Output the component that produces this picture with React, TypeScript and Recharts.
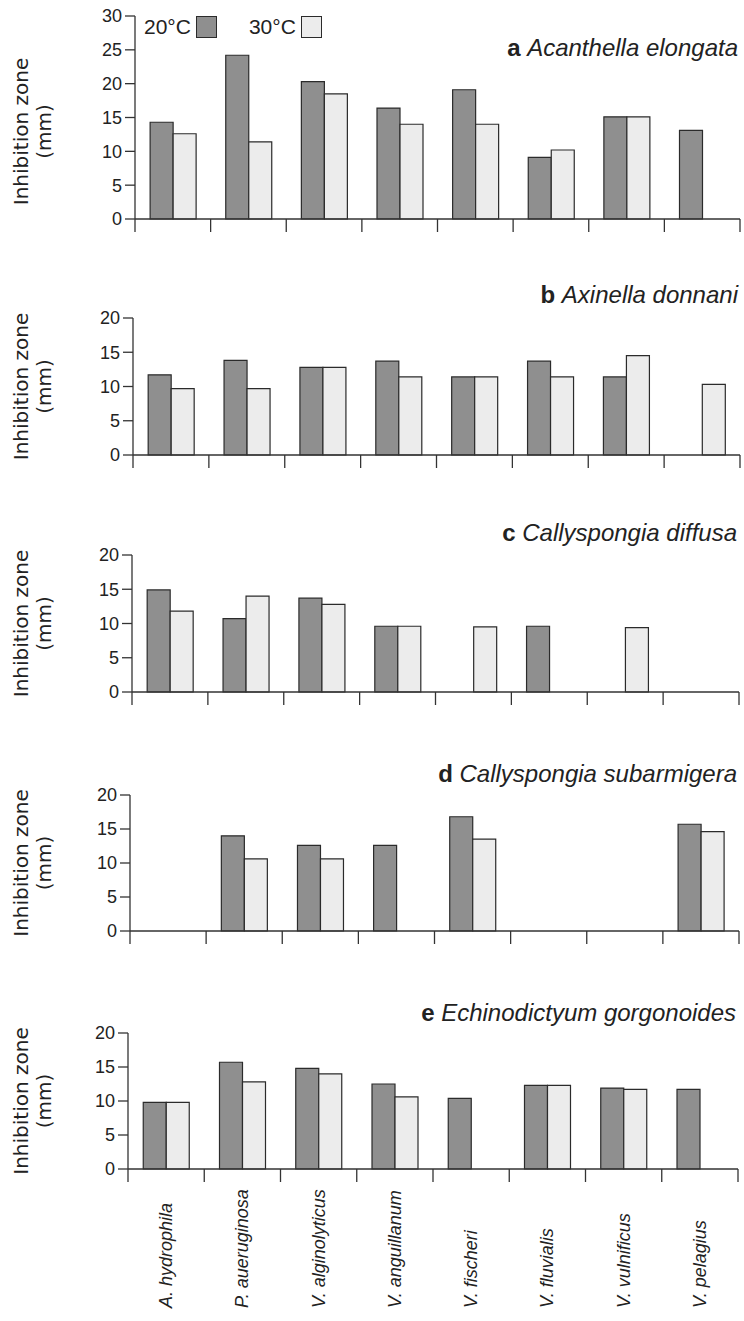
import React from 'react';
import { BarChart, Bar, XAxis, YAxis, Legend } from 'recharts';

const categories = [
  'A. hydrophila',
  'P. aueruginosa',
  'V. alginolyticus',
  'V. anguillanum',
  'V. fischeri',
  'V. fluvialis',
  'V. vulnificus',
  'V. pelagius',
];

const seriesNames = ['20°C', '30°C'];

const a20 = [14.3, 24.2, 20.3, 16.4, 19.1, 9.1, 15.1, 13.1];
const a30 = [12.6, 11.4, 18.5, 14.0, 14.0, 10.2, 15.1, null];

const b20 = [11.7, 13.8, 12.8, 13.7, 11.4, 13.7, 11.4, null];
const b30 = [9.7, 9.7, 12.8, 11.4, 11.4, 11.4, 14.5, 10.3];

const c20 = [14.9, 10.7, 13.7, 9.6, null, 9.6, null, null];
const c30 = [11.8, 14.0, 12.8, 9.6, 9.5, null, 9.4, null];

const d20 = [null, 14.0, 12.6, 12.6, 16.8, null, null, 15.7];
const d30 = [null, 10.6, 10.6, null, 13.5, null, null, 14.6];

const e20 = [9.8, 15.7, 14.8, 12.5, 10.4, 12.3, 11.9, 11.7];
const e30 = [9.8, 12.8, 14.0, 10.6, null, 12.3, 11.7, null];

const ticks30 = [0, 5, 10, 15, 20, 25, 30];
const ticks20 = [0, 5, 10, 15, 20];

const panelLetters = ['a', 'b', 'c', 'd', 'e'];
const panelSpecies = [
  'Acanthella elongata',
  'Axinella donnani',
  'Callyspongia diffusa',
  'Callyspongia subarmigera',
  'Echinodictyum gorgonoides',
];
const yLabelLines = ['Inhibition zone', '(mm)'];

const build = (v20: (number | null)[], v30: (number | null)[]) =>
  categories.map((name, i) => ({ name, t20: v20[i], t30: v30[i] }));

const DARK = '#8f8f8f';
const LIGHT = '#ececec';
const EDGE = '#2b2b2b';
const AXIS = '#333333';
const SANS = '"Liberation Sans", Arial, Helvetica, sans-serif';

type PanelProps = {
  data: any[];
  plotTop: number;
  plotBottom: number;
  left: number;
  right: number;
  yMax: number;
  yTicks: number[];
  letter: string;
  species: string;
  titleY: number;
  showLabels?: boolean;
  showLegend?: boolean;
};

const LegendContent = (props: any) => {
  const payload = props.payload || [];
  return (
    <div style={{ display: 'flex', alignItems: 'center', fontFamily: SANS, fontSize: 21, color: '#222', lineHeight: '24px' }}>
      {payload.map((entry: any, i: number) => (
        <div key={i} style={{ display: 'flex', alignItems: 'center', marginRight: i === 0 ? 32 : 0 }}>
          <span>{entry.value}</span>
          <span
            style={{
              display: 'inline-block',
              width: 21,
              height: 22,
              marginLeft: 5,
              background: entry.color,
              border: `1.3px solid ${EDGE}`,
              boxSizing: 'border-box',
            }}
          />
        </div>
      ))}
    </div>
  );
};

function Panel(p: PanelProps) {
  const mt = 12;
  const axisH = p.showLabels ? 146 : 14;
  const mb = 2;
  const plotH = p.plotBottom - p.plotTop;
  const height = mt + plotH + axisH + mb;
  const yW = 45;
  const chartTop = p.plotTop - mt;
  const axisY = mt + plotH;
  const labelBottomLocal = axisY + 139;
  const plotW = p.right - p.left;
  const nCat = categories.length;

  const XTick = (tp: any) => {
    const { x, payload, index } = tp;
    const half = payload && payload.offset > 0 ? payload.offset : plotW / nCat / 2;
    const bx = x + 6;
    const last = index === nCat - 1;
    return (
      <g>
        <line x1={x - half} x2={x - half} y1={axisY} y2={axisY + 13} stroke={AXIS} strokeWidth={1.3} />
        {last && <line x1={x + half} x2={x + half} y1={axisY} y2={axisY + 13} stroke={AXIS} strokeWidth={1.3} />}
        {p.showLabels && (
          <text
            x={bx}
            y={labelBottomLocal}
            transform={`rotate(-90, ${bx}, ${labelBottomLocal})`}
            textAnchor="start"
            fontFamily={SANS}
            fontStyle="italic"
            fontSize={18}
            fill="#222"
          >
            {payload.value}
          </text>
        )}
      </g>
    );
  };

  const YLabel = () => {
    const cy = mt + plotH / 2 + (p.yMax === 30 ? 14 : 0);
    return (
      <g>
        {yLabelLines.map((line, i) => {
          const lx = 28 + i * 23;
          return (
            <text
              key={i}
              x={lx}
              y={cy}
              transform={`rotate(-90, ${lx}, ${cy})`}
              textAnchor="middle"
              fontFamily='"DejaVu Sans", Verdana, sans-serif'
              fontSize={20}
              fill="#222"
            >
              {line}
            </text>
          );
        })}
      </g>
    );
  };

  return (
    <div style={{ position: 'absolute', left: 0, top: chartTop, width: 744, height }}>
      <BarChart
        width={744}
        height={height}
        data={p.data}
        margin={{ top: mt, right: 744 - p.right, bottom: mb, left: p.left - yW }}
        barCategoryGap="20%"
        barGap={0}
      >
        <XAxis
          dataKey="name"
          height={axisH}
          axisLine={{ stroke: AXIS, strokeWidth: 1.3 }}
          tickLine={false}
          tickSize={0}
          tickMargin={0}
          interval={0}
          tick={XTick}
        />
        <YAxis
          type="number"
          domain={[0, p.yMax]}
          ticks={p.yTicks}
          interval={0}
          width={yW}
          tickSize={10}
          tickMargin={3}
          axisLine={{ stroke: AXIS, strokeWidth: 1.3 }}
          tickLine={{ stroke: AXIS, strokeWidth: 1.3 }}
          tick={{ fontFamily: SANS, fontSize: 18, fill: '#222' }}
          label={{ content: YLabel }}
        />
        {p.showLegend && (
          <Legend
            layout="horizontal"
            verticalAlign="middle"
            content={LegendContent}
            wrapperStyle={{ top: 11, left: 144, width: 'auto', height: 'auto' }}
          />
        )}
        <Bar dataKey="t20" name={seriesNames[0]} fill={DARK} stroke={EDGE} strokeWidth={1.2} isAnimationActive={false} />
        <Bar dataKey="t30" name={seriesNames[1]} fill={LIGHT} stroke={EDGE} strokeWidth={1.2} isAnimationActive={false} />
      </BarChart>
      <div
        style={{
          position: 'absolute',
          right: 744 - p.right + 2,
          top: p.titleY - chartTop - 14,
          fontFamily: SANS,
          fontSize: 24,
          color: '#222',
          whiteSpace: 'nowrap',
          lineHeight: '28px',
        }}
      >
        <b>{p.letter}</b> <i>{p.species}</i>
      </div>
    </div>
  );
}

export default function App() {
  const panels: PanelProps[] = [
    { data: build(a20, a30), plotTop: 16, plotBottom: 219, left: 135, right: 740, yMax: 30, yTicks: ticks30, letter: panelLetters[0], species: panelSpecies[0], titleY: 48, showLegend: true },
    { data: build(b20, b30), plotTop: 318, plotBottom: 455, left: 133, right: 740, yMax: 20, yTicks: ticks20, letter: panelLetters[1], species: panelSpecies[1], titleY: 295 },
    { data: build(c20, c30), plotTop: 555, plotBottom: 692, left: 132, right: 739, yMax: 20, yTicks: ticks20, letter: panelLetters[2], species: panelSpecies[2], titleY: 533 },
    { data: build(d20, d30), plotTop: 795, plotBottom: 931, left: 130, right: 739, yMax: 20, yTicks: ticks20, letter: panelLetters[3], species: panelSpecies[3], titleY: 774 },
    { data: build(e20, e30), plotTop: 1033, plotBottom: 1169, left: 128, right: 738, yMax: 20, yTicks: ticks20, letter: panelLetters[4], species: panelSpecies[4], titleY: 1013, showLabels: true },
  ];
  return (
    <div style={{ position: 'absolute', left: 0, top: 0, width: 744, height: 1321, background: '#fff', overflow: 'hidden' }}>
      {panels.map((p, i) => (
        <Panel key={i} {...p} />
      ))}
    </div>
  );
}
